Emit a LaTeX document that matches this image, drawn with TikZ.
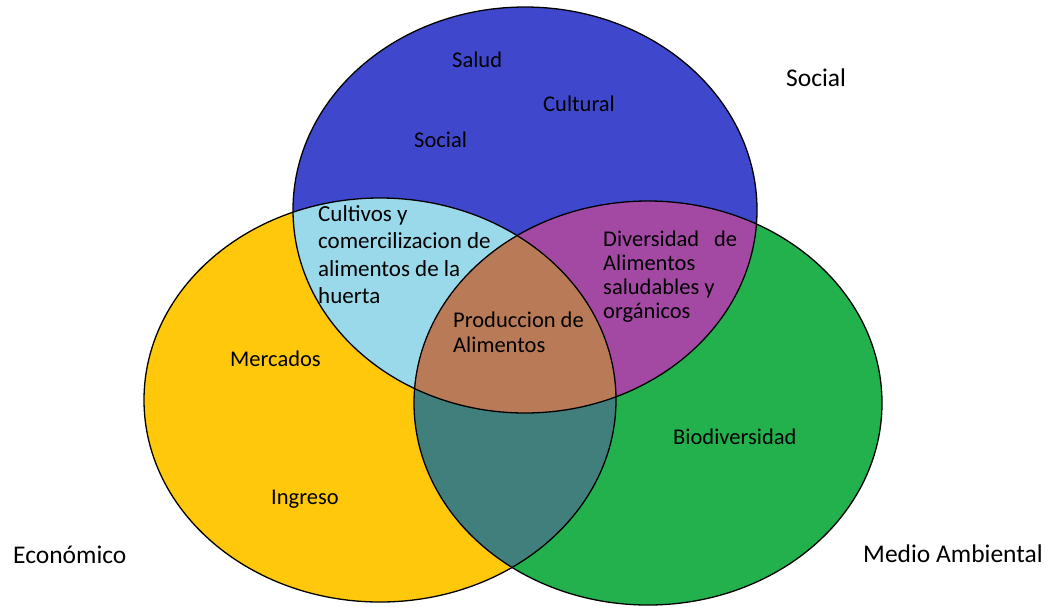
\documentclass[tikz,border=0pt]{standalone}
\usepackage{fontspec}
\setmainfont{Carlito}
\definecolor{cblue}{HTML}{3F48CC}
\definecolor{cyellow}{HTML}{FFC80B}
\definecolor{cgreen}{HTML}{22B14C}
\definecolor{clight}{HTML}{99D9EA}
\definecolor{cpurple}{HTML}{A349A4}
\definecolor{cteal}{HTML}{417F7D}
\definecolor{cbrown}{HTML}{B97A57}
\tikzset{
  lbl/.style={anchor=base west, inner sep=0pt, text=black, font=\fontsize{22.5}{27}\selectfont},
  lblbig/.style={lbl, font=\fontsize{23}{27}\selectfont},
  outer/.style={lbl, font=\fontsize{25.5}{30}\selectfont},
  ring/.style={draw=black, line width=1.3pt}
}
\begin{document}
\begin{tikzpicture}[x=1pt,y=-1pt]
\useasboundingbox (0,0) rectangle (1051,606);
\def\Eco{(380,400) ellipse [x radius=236, y radius=202]}
\def\Soc{(525,210) ellipse [x radius=232, y radius=203]}
\def\Amb{(648,403) ellipse [x radius=234, y radius=202]}
% base fills
\fill[cyellow] \Eco;
\fill[cgreen] \Amb;
\fill[cblue] \Soc;
% pairwise overlaps
\begin{scope}\clip \Eco; \fill[clight] \Soc; \fill[cteal] \Amb; \end{scope}
\begin{scope}\clip \Soc; \fill[cpurple] \Amb; \end{scope}
\begin{scope}\clip \Eco; \clip \Soc; \fill[cbrown] \Amb; \end{scope}
% outlines
\draw[ring] \Eco;
\draw[ring] \Amb;
\draw[ring] \Soc;
% texts
\node[lbl] (salud) at (452,67) {Salud};
\node[lbl] (cultural) at (543,111) {Cultural};
\node[lbl] (socialin) at (414,147) {Social};
\node[outer] (socialout) at (786,86) {Social};
\node[lblbig] (cult1) at (318,221) {Cultivos y};
\node[lblbig] (cult2) at (318,248) {comercilizacion de};
\node[lblbig] (cult3) at (318,276) {alimentos de la};
\node[lblbig] (cult4) at (318,303) {huerta};
\node[lbl] (div1) at (603,246) {\makebox[134pt][s]{Diversidad de}};
\node[lbl] (div2) at (603,270) {Alimentos};
\node[lbl] (div3) at (603,294) {saludables y};
\node[lbl] (div4) at (603,318) {orgánicos};
\node[lbl] (prod1) at (453,327) {Produccion de};
\node[lbl] (prod2) at (453,352) {Alimentos};
\node[lbl] (merc) at (230,366) {Mercados};
\node[lbl] (ingr) at (271,504) {Ingreso};
\node[lbl] (bio) at (673,444) {Biodiversidad};
\node[outer] (eco) at (13,563) {Económico};
\node[outer] (amb) at (863,562) {Medio Ambiental};
\end{tikzpicture}
\end{document}
